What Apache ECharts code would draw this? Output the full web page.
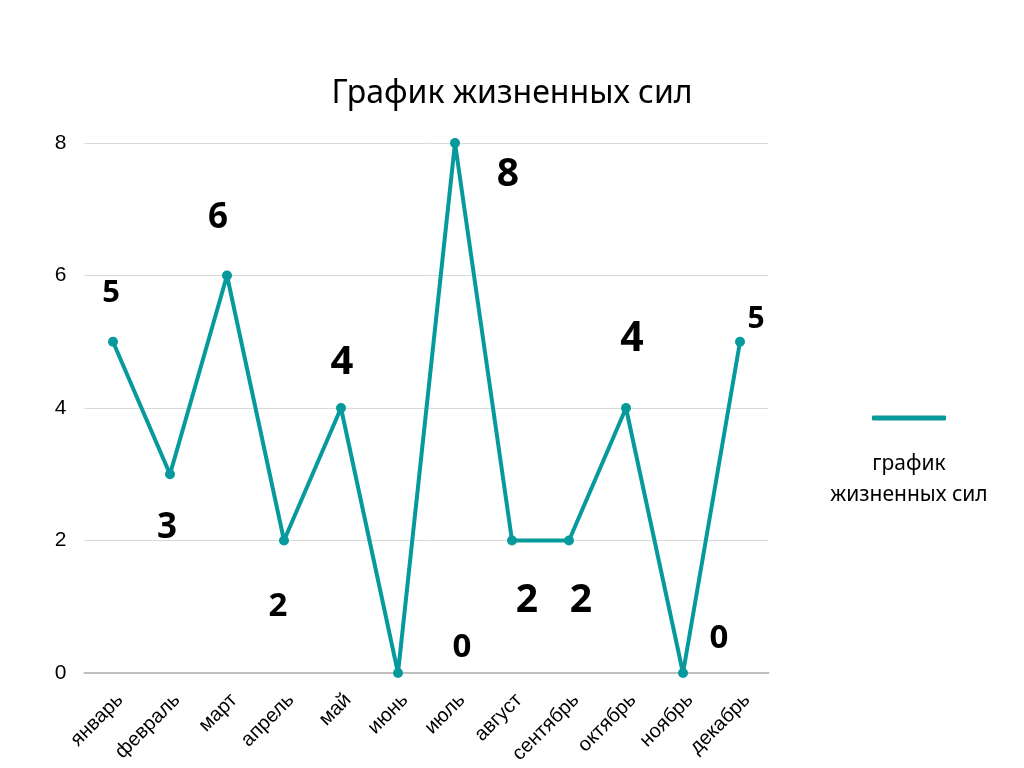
<!DOCTYPE html>
<html>
<head>
<meta charset="utf-8">
<script src="https://cdn.jsdelivr.net/npm/echarts@6/dist/echarts.min.js"></script>
<style>
html,body{margin:0;padding:0;background:#fff;}
#chart{width:1024px;height:768px;}
</style>
</head>
<body>
<div id="chart"></div>
<script>
// ---- data ----
const titleText = 'График жизненных сил';
const seriesName = 'график жизненных сил';
const legendLines = ['график', 'жизненных сил'];
const months = ['январь','февраль','март','апрель','май','июнь','июль','август','сентябрь','октябрь','ноябрь','декабрь'];
const values = [5, 3, 6, 2, 4, 0, 8, 2, 2, 4, 0, 5];
const yTicks = [0, 2, 4, 6, 8];

// ---- label styling (layout only) ----
const labelOffsets = [[-2,-49],[-3,54],[-9,-57],[-6,66],[1,-45],[64,-25],[53,32],[15,60],[12,60],[6,-69],[36,-34],[16,-22]];
const labelSizes = [31,35,35,33,40,33,39,39,39,41,33,30];

const color = '#079a9c';
const chart = echarts.init(document.getElementById('chart'));

const data = values.map((v, i) => ({
  value: v,
  label: {
    show: true,
    position: 'inside',
    offset: labelOffsets[i],
    fontSize: labelSizes[i],
    fontWeight: 'bold',
    fontFamily: 'Open Sans',
    color: '#000'
  }
}));

chart.setOption({
  animation: false,
  backgroundColor: '#fff',
  title: {
    text: titleText,
    left: 'center',
    top: 73,
    textStyle: {fontFamily: 'Noto Sans', fontSize: 32, fontWeight: 'normal', color: '#000'}
  },
  legend: {
    left: 872,
    top: 415.5,
    padding: 0,
    itemWidth: 74,
    itemHeight: 5,
    icon: 'roundRect',
    data: [seriesName],
    formatter: () => '',
    selectedMode: false
  },
  graphic: [{
    type: 'text',
    left: 909 - 90,
    top: 454,
    style: {
      text: legendLines.map(s => '{t|' + s + '}').join('\n'),
      rich: {t: {width: 180, align: 'center', fontSize: 21, lineHeight: 31, fontFamily: 'Noto Sans', fill: '#000'}}
    }
  }],
  grid: {left: 84.5, right: 255.5, top: 143, bottom: 95, containLabel: false},
  xAxis: {
    type: 'category',
    data: months,
    boundaryGap: true,
    axisLine: {show: true, lineStyle: {color: '#bfbfbf', width: 2}},
    axisTick: {show: false},
    axisLabel: {rotate: 45, fontSize: 20, fontFamily: 'Liberation Sans', color: '#000', margin: 17, interval: 0, verticalAlign: 'top'}
  },
  yAxis: {
    type: 'value',
    min: yTicks[0],
    max: yTicks[yTicks.length - 1],
    interval: yTicks[1] - yTicks[0],
    axisLine: {show: false},
    axisTick: {show: false},
    splitLine: {lineStyle: {color: '#d9d9d9', width: 1}},
    axisLabel: {fontSize: 21, fontFamily: 'Liberation Sans', color: '#000', margin: 18}
  },
  series: [{
    name: seriesName,
    type: 'line',
    data: data,
    symbol: 'circle',
    symbolSize: 10,
    lineStyle: {color: color, width: 4},
    itemStyle: {color: color}
  }]
});
</script>
</body>
</html>
